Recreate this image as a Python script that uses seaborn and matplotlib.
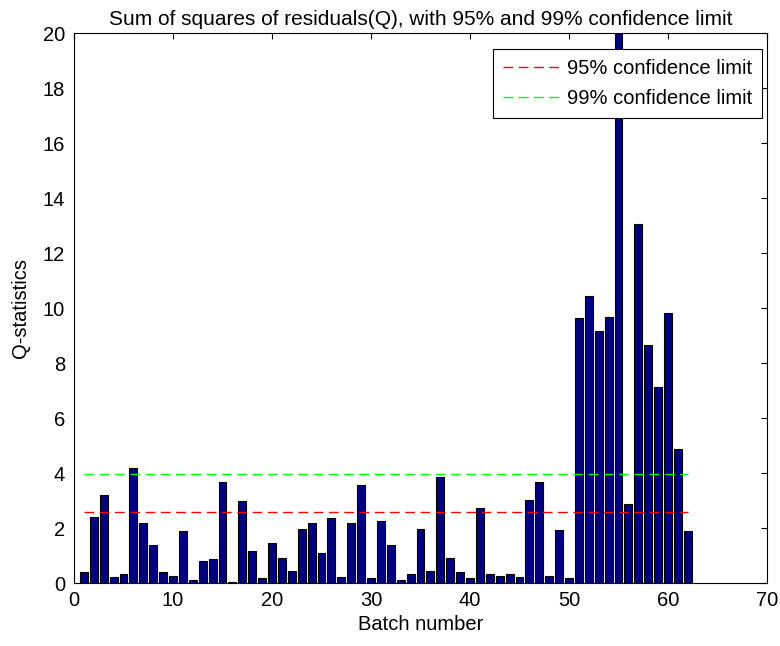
import matplotlib
matplotlib.use("Agg")
import matplotlib.pyplot as plt
import seaborn as sns
import pandas as pd

# Q-statistic (sum of squared residuals) per batch
batch = list(range(1, 63))
q_stat = [
    0.39, 2.39, 3.20, 0.22, 0.34, 4.18, 2.20, 1.38, 0.39, 0.27,
    1.90, 0.10, 0.80, 0.86, 3.66, 0.03, 3.00, 1.15, 0.17, 1.44,
    0.92, 0.45, 1.97, 2.20, 1.09, 2.38, 0.22, 2.20, 3.55, 0.18,
    2.27, 1.38, 0.10, 0.34, 1.98, 0.45, 3.84, 0.92, 0.39, 0.17,
    2.72, 0.34, 0.27, 0.34, 0.22, 3.03, 3.68, 0.24, 1.93, 0.20,
    9.62, 10.43, 9.15, 9.66, 21.50, 2.89, 13.07, 8.65, 7.12, 9.81,
    4.89, 1.89,
]
limit_95 = 2.6
limit_99 = 3.95

x_ticks = [0, 10, 20, 30, 40, 50, 60, 70]
y_ticks = [0, 2, 4, 6, 8, 10, 12, 14, 16, 18, 20]

sns.set_style("white")
plt.rcParams["font.family"] = ["Liberation Sans", "DejaVu Sans"]
plt.rcParams["text.color"] = "black"
plt.rcParams["axes.labelcolor"] = "black"
FS = 14.5

df = pd.DataFrame({"batch": batch, "Q": q_stat})

fig = plt.figure(figsize=(7.8, 6.46), dpi=100)
ax = fig.add_axes([0.0949, 0.0975, 0.8884, 0.8514])

sns.barplot(data=df, x="batch", y="Q", native_scale=True, width=0.8,
            color="#000080", saturation=1, edgecolor="black", linewidth=0.8,
            ax=ax, zorder=2)

ax.plot([batch[0], batch[-1]], [limit_95, limit_95], color="red",
        linestyle=(0, (7, 4)), linewidth=1, label="95% confidence limit", zorder=3)
ax.plot([batch[0], batch[-1]], [limit_99, limit_99], color="#00ff00",
        linestyle=(0, (7, 4)), linewidth=1, label="99% confidence limit", zorder=3)

ax.set_xlim(0, 70)
ax.set_ylim(0, 20)
ax.set_xticks(x_ticks)
ax.set_xticklabels([str(t) for t in x_ticks])
ax.set_yticks(y_ticks)
ax.set_yticklabels([str(t) for t in y_ticks])

for s in ax.spines.values():
    s.set_visible(True)
    s.set_color("black")
    s.set_linewidth(0.8)
ax.tick_params(direction="in", length=4.3, width=0.8, top=True, right=True,
               labelsize=FS, colors="black", labelcolor="black")
ax.tick_params(axis="y", pad=6.5)
ax.tick_params(axis="x", pad=6)

ax.set_xlabel("Batch number", fontsize=FS, labelpad=3, color="black")
ax.set_ylabel("Q-statistics", fontsize=FS, labelpad=9, color="black")
ax.set_title("Sum of squares of residuals(Q), with 95% and 99% confidence limit",
             fontsize=15, pad=6, color="black")

leg = ax.legend(loc="upper right", bbox_to_anchor=(0.9928, 0.9709),
                borderaxespad=0, fontsize=FS, frameon=True, fancybox=False,
                edgecolor="black", framealpha=1, handlelength=2.9,
                handletextpad=0.25, labelspacing=0.55, borderpad=0.5)
leg.get_frame().set_linewidth(0.8)
for t in leg.get_texts():
    t.set_color("black")

fig.savefig("out.png", dpi=100)
